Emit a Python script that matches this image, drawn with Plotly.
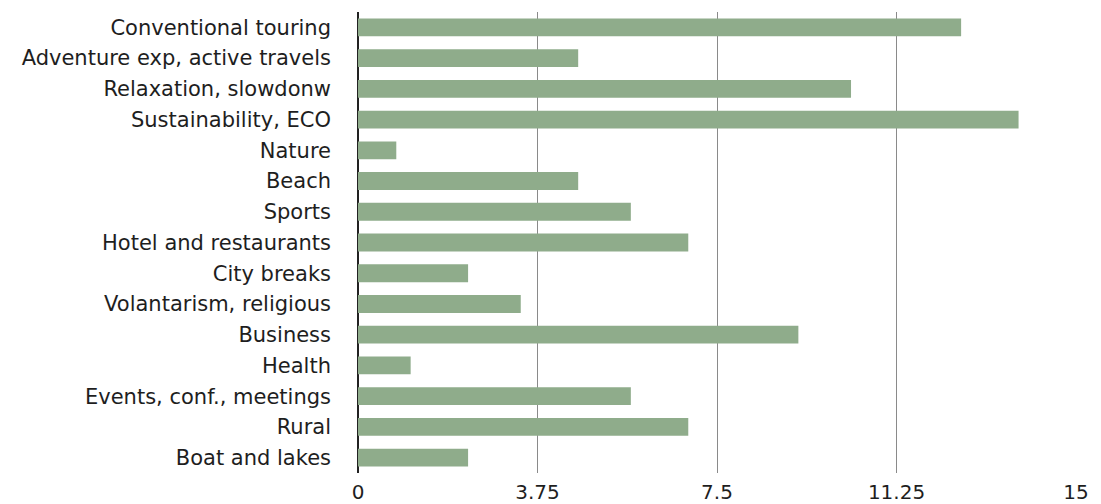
import plotly.graph_objects as go

categories = [
    "Conventional touring",
    "Adventure exp, active travels",
    "Relaxation, slowdonw",
    "Sustainability, ECO",
    "Nature",
    "Beach",
    "Sports",
    "Hotel and restaurants",
    "City breaks",
    "Volantarism, religious",
    "Business",
    "Health",
    "Events, conf., meetings",
    "Rural",
    "Boat and lakes",
]
values = [12.6, 4.6, 10.3, 13.8, 0.8, 4.6, 5.7, 6.9, 2.3, 3.4, 9.2, 1.1, 5.7, 6.9, 2.3]
x_ticks = [0, 3.75, 7.5, 11.25, 15]
x_tick_labels = ["0", "3.75", "7.5", "11.25", "15"]

fig = go.Figure(
    go.Bar(
        x=values,
        y=categories,
        orientation="h",
        marker=dict(color="rgb(143,172,139)", line=dict(width=0)),
        hoverinfo="x+y",
    )
)

font = dict(family="DejaVu Sans, sans-serif", size=21, color="#1e1e1e")
xfont = dict(family="DejaVu Sans, sans-serif", size=20, color="#1e1e1e")

fig.update_layout(
    width=1101,
    height=504,
    margin=dict(l=358, r=25, t=12, b=31, autoexpand=False),
    paper_bgcolor="white",
    plot_bgcolor="white",
    bargap=0.42,
    showlegend=False,
    font=font,
)
fig.update_xaxes(
    range=[0, 15],
    tickvals=x_ticks,
    ticktext=x_tick_labels,
    showgrid=True,
    gridcolor="#8a8a8a",
    gridwidth=1,
    zeroline=True,
    zerolinecolor="#222222",
    zerolinewidth=1.5,
    showline=False,
    ticks="",
    ticklabelstandoff=5,
    tickfont=xfont,
    automargin=False,
    fixedrange=True,
)
fig.update_yaxes(
    autorange="reversed",
    showgrid=False,
    zeroline=False,
    showline=False,
    ticks="",
    ticklabelstandoff=26,
    tickfont=font,
    automargin=False,
    fixedrange=True,
)

fig.write_html("out.html")
